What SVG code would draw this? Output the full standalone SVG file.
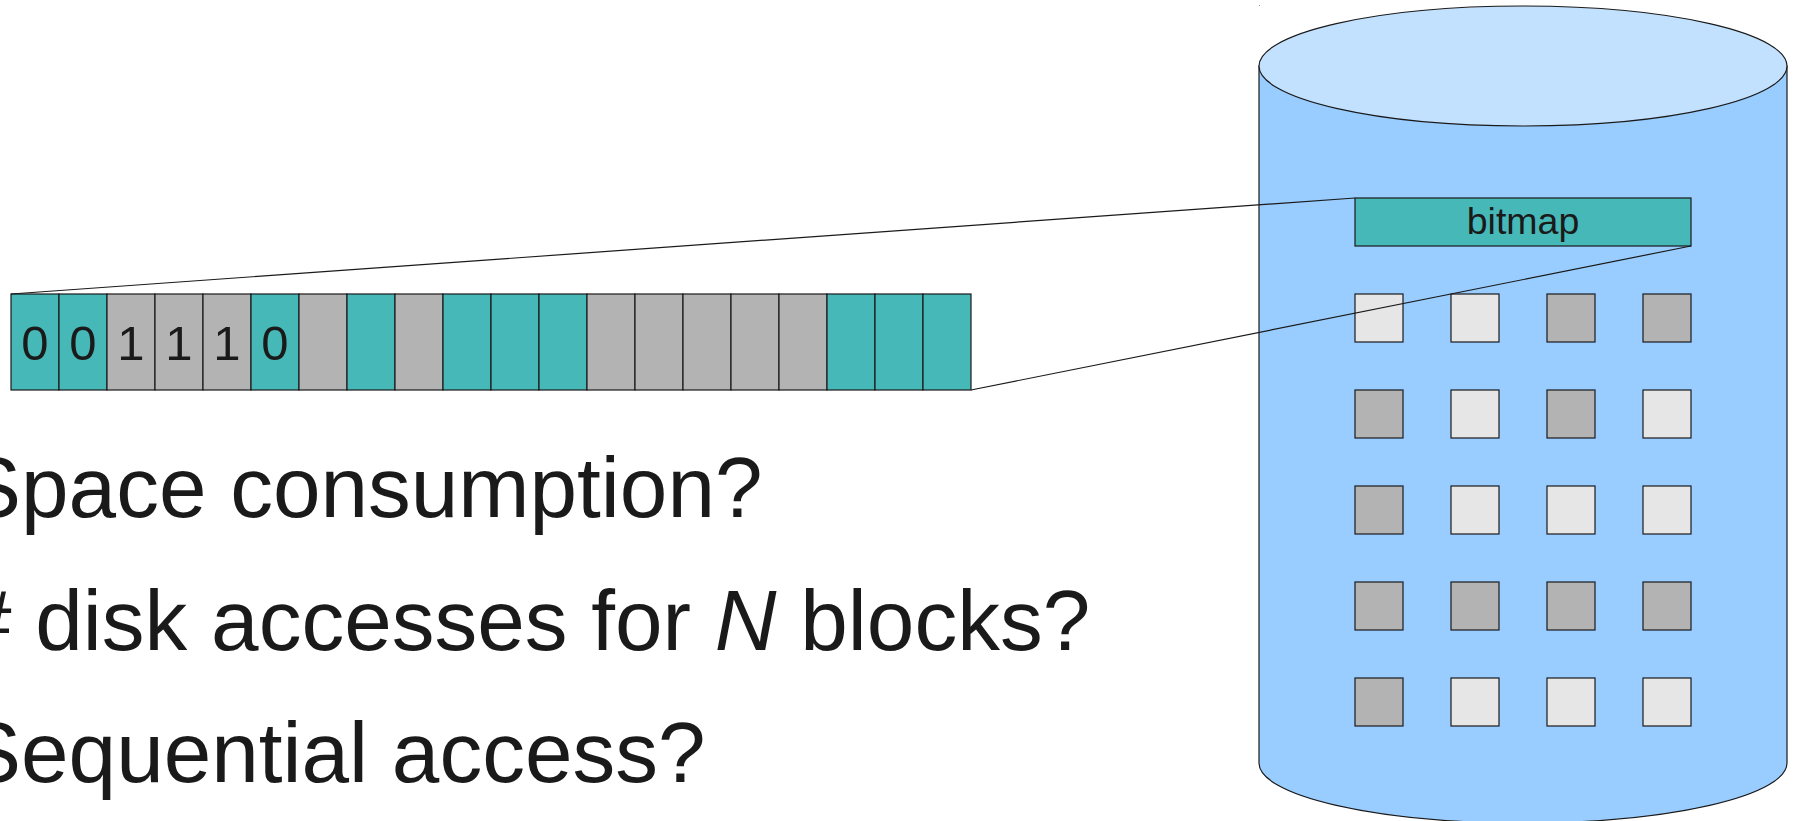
<svg xmlns="http://www.w3.org/2000/svg" width="1798" height="821" viewBox="0 0 1798 821">
  <style>
    .cell { stroke: #1a1a1a; stroke-width: 1.2; }
    .set { fill: #47b8b8; }
    .used { fill: #b3b3b3; }
    .free { fill: #e6e6e6; }
    .digit { font-family: "Liberation Sans", Arial, sans-serif; font-size: 49px; fill: #1a1a1a; text-anchor: middle; }
    .q { font-family: "Liberation Sans", Arial, sans-serif; font-size: 85.5px; fill: #1a1a1a; }
    .lbl { font-family: "Liberation Sans", Arial, sans-serif; font-size: 37.5px; fill: #1a1a1a; text-anchor: middle; }
    .link { stroke: #1a1a1a; stroke-width: 1.2; fill: none; }
  </style>

  <rect width="1798" height="821" fill="#ffffff"/>

  <!-- disk cylinder -->
  <g id="disk">
    <rect x="1259" y="5" width="1" height="1" fill="#999999"/>
    <path d="M1259,66 L1259,763 A264,60 0 0 0 1787,763 L1787,66 Z" fill="#99ccff" stroke="#1a1a1a" stroke-width="1.2"/>
    <ellipse cx="1523" cy="66" rx="264" ry="60" fill="#c2e1ff" stroke="#1a1a1a" stroke-width="1.2"/>
  </g>

  <!-- bitmap block stored on disk -->
  <g id="bitmap">
    <rect class="cell set" x="1355" y="198" width="336" height="48"/>
    <text class="lbl" x="1523" y="234">bitmap</text>
  </g>

  <!-- data blocks on disk -->
  <g id="blocks">
    <rect class="cell free" x="1355" y="294" width="48" height="48"/>
    <rect class="cell free" x="1451" y="294" width="48" height="48"/>
    <rect class="cell used" x="1547" y="294" width="48" height="48"/>
    <rect class="cell used" x="1643" y="294" width="48" height="48"/>

    <rect class="cell used" x="1355" y="390" width="48" height="48"/>
    <rect class="cell free" x="1451" y="390" width="48" height="48"/>
    <rect class="cell used" x="1547" y="390" width="48" height="48"/>
    <rect class="cell free" x="1643" y="390" width="48" height="48"/>

    <rect class="cell used" x="1355" y="486" width="48" height="48"/>
    <rect class="cell free" x="1451" y="486" width="48" height="48"/>
    <rect class="cell free" x="1547" y="486" width="48" height="48"/>
    <rect class="cell free" x="1643" y="486" width="48" height="48"/>

    <rect class="cell used" x="1355" y="582" width="48" height="48"/>
    <rect class="cell used" x="1451" y="582" width="48" height="48"/>
    <rect class="cell used" x="1547" y="582" width="48" height="48"/>
    <rect class="cell used" x="1643" y="582" width="48" height="48"/>

    <rect class="cell used" x="1355" y="678" width="48" height="48"/>
    <rect class="cell free" x="1451" y="678" width="48" height="48"/>
    <rect class="cell free" x="1547" y="678" width="48" height="48"/>
    <rect class="cell free" x="1643" y="678" width="48" height="48"/>
  </g>

  <!-- expanded bitmap strip -->
  <g id="strip">
    <rect class="cell set" x="11" y="294" width="48" height="96"/>
    <rect class="cell set" x="59" y="294" width="48" height="96"/>
    <rect class="cell used" x="107" y="294" width="48" height="96"/>
    <rect class="cell used" x="155" y="294" width="48" height="96"/>
    <rect class="cell used" x="203" y="294" width="48" height="96"/>
    <rect class="cell set" x="251" y="294" width="48" height="96"/>
    <rect class="cell used" x="299" y="294" width="48" height="96"/>
    <rect class="cell set" x="347" y="294" width="48" height="96"/>
    <rect class="cell used" x="395" y="294" width="48" height="96"/>
    <rect class="cell set" x="443" y="294" width="48" height="96"/>
    <rect class="cell set" x="491" y="294" width="48" height="96"/>
    <rect class="cell set" x="539" y="294" width="48" height="96"/>
    <rect class="cell used" x="587" y="294" width="48" height="96"/>
    <rect class="cell used" x="635" y="294" width="48" height="96"/>
    <rect class="cell used" x="683" y="294" width="48" height="96"/>
    <rect class="cell used" x="731" y="294" width="48" height="96"/>
    <rect class="cell used" x="779" y="294" width="48" height="96"/>
    <rect class="cell set" x="827" y="294" width="48" height="96"/>
    <rect class="cell set" x="875" y="294" width="48" height="96"/>
    <rect class="cell set" x="923" y="294" width="48" height="96"/>
    <text class="digit" x="35" y="360">0</text>
    <text class="digit" x="83" y="360">0</text>
    <text class="digit" x="131" y="360">1</text>
    <text class="digit" x="179" y="360">1</text>
    <text class="digit" x="227" y="360">1</text>
    <text class="digit" x="275" y="360">0</text>
  </g>

  <!-- zoom lines from bitmap block to strip -->
  <g id="connectors">
    <line class="link" x1="1355" y1="198" x2="11" y2="294"/>
    <line class="link" x1="1691" y1="246" x2="971" y2="390"/>
  </g>

  <!-- questions -->
  <g id="questions">
    <text class="q" x="-36" y="517">Space consumption?</text>
    <text class="q" x="-36" y="650"># disk accesses for <tspan font-style="italic">N</tspan> blocks?</text>
    <text class="q" x="-36" y="782">Sequential access?</text>
  </g>
</svg>
